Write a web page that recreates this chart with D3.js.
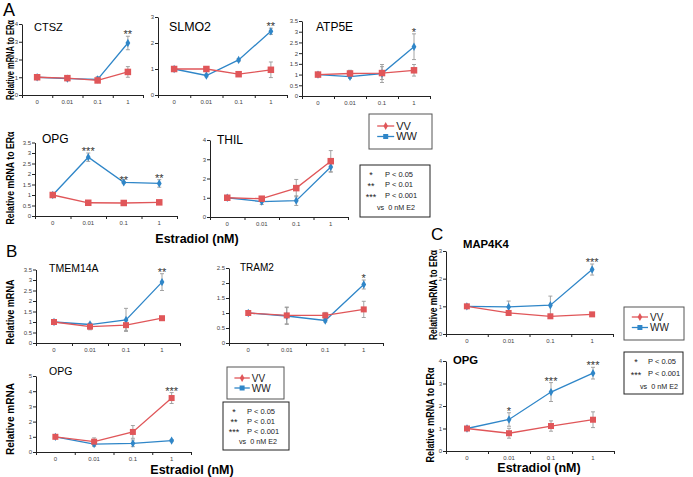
<!DOCTYPE html>
<html>
<head>
<meta charset="utf-8">
<script src="https://cdn.jsdelivr.net/npm/d3@7"></script>
<style>
  body { margin: 0; background: #fff; }
  text { font-family: "Liberation Sans", Arial, sans-serif; }
</style>
</head>
<body>
<svg id="fig" width="693" height="477"></svg>
<script>
// doses of estradiol (nM)
const doses = ["0", "0.01", "0.1", "1"];

// Panel A
const ctszVV = [1.0, 0.95, 0.82, 1.3],   ctszVVErr = [0.03, 0.06, 0.05, 0.3];
const ctszWW = [1.0, 0.92, 0.88, 2.93],  ctszWWErr = [0.03, 0.06, 0.15, 0.38];
const ctszStars = ["", "", "", "**"];

const slmo2VV = [1.0, 1.0, 0.8, 0.97],   slmo2VVErr = [0.03, 0.08, 0.05, 0.3];
const slmo2WW = [1.0, 0.75, 1.35, 2.45], slmo2WWErr = [0.03, 0.05, 0.05, 0.12];
const slmo2Stars = ["", "", "", "**"];

const atp5eVV = [1.0, 1.05, 1.07, 1.2],  atp5eVVErr = [0.03, 0.15, 0.3, 0.27];
const atp5eWW = [1.0, 0.9, 1.05, 2.3],   atp5eWWErr = [0.03, 0.08, 0.42, 0.6];
const atp5eStars = ["", "", "", "*"];

const opgAVV = [1.0, 0.63, 0.62, 0.65],  opgAVVErr = [0.03, 0.06, 0.03, 0.04];
const opgAWW = [1.0, 2.8, 1.6, 1.55],    opgAWWErr = [0.03, 0.2, 0.04, 0.18];
const opgAStars = ["", "***", "**", "**"];

const thilVV = [1.0, 0.95, 1.5, 2.9],    thilVVErr = [0.03, 0.05, 0.45, 0.55];
const thilWW = [1.0, 0.8, 0.85, 2.6],    thilWWErr = [0.03, 0.15, 0.25, 0.27];
const thilStars = ["", "", "", ""];

// Panel B
const tmemVV = [1.0, 0.78, 0.85, 1.18],  tmemVVErr = [0.03, 0.15, 0.25, 0.04];
const tmemWW = [1.0, 0.88, 1.1, 2.9],    tmemWWErr = [0.03, 0.06, 0.55, 0.4];
const tmemStars = ["", "", "", "**"];

const tram2VV = [1.0, 0.92, 0.92, 1.12], tram2VVErr = [0.03, 0.28, 0.1, 0.27];
const tram2WW = [1.0, 0.9, 0.75, 1.95],  tram2WWErr = [0.03, 0.28, 0.05, 0.15];
const tram2Stars = ["", "", "", "*"];

const opgBVV = [1.0, 0.68, 1.32, 3.55],  opgBVVErr = [0.04, 0.25, 0.42, 0.36];
const opgBWW = [1.0, 0.52, 0.57, 0.75],  opgBWWErr = [0.04, 0.15, 0.22, 0.07];
const opgBStars = ["", "", "", "***"];

// Panel C
const map4VV = [1.0, 0.76, 0.64, 0.71],  map4VVErr = [0.03, 0.08, 0.04, 0.04];
const map4WW = [1.0, 0.98, 1.04, 2.33],  map4WWErr = [0.03, 0.21, 0.33, 0.2];
const map4Stars = ["", "", "", "***"];

const opgCVV = [1.0, 0.79, 1.11, 1.39],  opgCVVErr = [0.04, 0.22, 0.23, 0.35];
const opgCWW = [1.0, 1.4, 2.62, 3.46],   opgCWWErr = [0.04, 0.3, 0.42, 0.26];
const opgCStars = ["", "*", "***", "***"];

const red = "#e05659", blue = "#2f86c8", errCol = "#9a9a9a";

const svg = d3.select("#fig");

function panel(p) {
  const x = d3.scaleBand().domain(doses).range([p.x0, p.x1]);
  const y = d3.scaleLinear().domain([0, p.yMax]).range([p.yBot, p.yTop]);
  const edge = d3.scaleLinear().domain([0, doses.length]).range([p.x0, p.x1]);
  const cx = d => x(d) + x.bandwidth() / 2;

  // y axis
  const ya = svg.append("g")
    .attr("transform", "translate(" + p.x0 + ",0)")
    .call(d3.axisLeft(y)
      .tickValues(d3.range(0, p.yMax + 1e-9, p.step))
      .tickSize(3).tickSizeOuter(0).tickPadding(1)
      .tickFormat(d3.format("")));
  // x axis: boundary ticks, then labels centred in bands
  const xe = svg.append("g")
    .attr("transform", "translate(0," + p.yBot + ")")
    .call(d3.axisBottom(edge).ticks(doses.length).tickSize(3).tickSizeOuter(0).tickFormat(""));
  const xl = svg.append("g")
    .attr("transform", "translate(0," + p.yBot + ")")
    .call(d3.axisBottom(x).tickSize(0).tickPadding(5));
  xl.select(".domain").remove();
  [ya, xe, xl].forEach(g => {
    g.selectAll("path, line").attr("stroke", "#222");
    g.selectAll("text").attr("font-size", 6).attr("fill", "#444")
      .attr("font-family", "'Liberation Sans', Arial, sans-serif");
  });

  // title
  svg.append("text").attr("x", p.tx).attr("y", p.ty)
    .attr("font-size", p.tsize).attr("font-weight", p.tbold ? "bold" : "normal")
    .text(p.title);

  const series = [
    { v: p.ww, e: p.wwErr, c: blue, m: "diamond" },
    { v: p.vv, e: p.vvErr, c: red, m: "square" }
  ];
  const line = d3.line().x((d, i) => cx(doses[i])).y(d => y(d));

  series.forEach(s => {
    const g = svg.append("g");
    s.v.forEach((v, i) => {
      const xx = cx(doses[i]);
      g.append("line").attr("x1", xx).attr("x2", xx)
        .attr("y1", y(v - s.e[i])).attr("y2", y(v + s.e[i]))
        .attr("stroke", errCol).attr("stroke-width", 0.9);
      [v - s.e[i], v + s.e[i]].forEach(t => g.append("line")
        .attr("x1", xx - 2).attr("x2", xx + 2).attr("y1", y(t)).attr("y2", y(t))
        .attr("stroke", errCol).attr("stroke-width", 0.9));
    });
  });
  series.forEach(s => {
    svg.append("path").datum(s.v).attr("d", line)
      .attr("fill", "none").attr("stroke", s.c).attr("stroke-width", 1.3);
    s.v.forEach((v, i) => {
      if (s.m === "square") {
        svg.append("rect").attr("x", cx(doses[i]) - p.sq / 2).attr("y", y(v) - p.sq / 2)
          .attr("width", p.sq).attr("height", p.sq).attr("fill", s.c);
      } else {
        svg.append("path").attr("d", d3.symbol(d3.symbolDiamond, 20)())
          .attr("transform", "translate(" + cx(doses[i]) + "," + y(v) + ")")
          .attr("fill", s.c);
      }
    });
  });

  // significance stars
  const sv = p.starsOn === "vv" ? p.vv : p.ww;
  const se = p.starsOn === "vv" ? p.vvErr : p.wwErr;
  p.stars.forEach((st, i) => {
    if (!st) return;
    svg.append("text").attr("x", cx(doses[i])).attr("y", y(sv[i] + se[i]) + 2)
      .attr("text-anchor", "middle").attr("font-size", 11).attr("fill", "#333")
      .text(st);
  });
}

const panels = [
  { title: "CTSZ", tx: 34, ty: 31, tsize: 11, x0: 22, x1: 143, yTop: 24, yBot: 95, yMax: 4, step: 1, sq: 6.5,
    vv: ctszVV, vvErr: ctszVVErr, ww: ctszWW, wwErr: ctszWWErr, stars: ctszStars },
  { title: "SLMO2", tx: 169, ty: 31, tsize: 12.4, x0: 158, x1: 287, yTop: 17, yBot: 95, yMax: 3, step: 1, sq: 6.5,
    vv: slmo2VV, vvErr: slmo2VVErr, ww: slmo2WW, wwErr: slmo2WWErr, stars: slmo2Stars },
  { title: "ATP5E", tx: 316, ty: 31, tsize: 12, x0: 302, x1: 430, yTop: 21, yBot: 96, yMax: 3.5, step: 0.5, sq: 6.5,
    vv: atp5eVV, vvErr: atp5eVVErr, ww: atp5eWW, wwErr: atp5eWWErr, stars: atp5eStars },
  { title: "OPG", tx: 42, ty: 143, tsize: 12, x0: 35, x1: 177, yTop: 142.5, yBot: 216, yMax: 3.5, step: 0.5, sq: 6.5,
    vv: opgAVV, vvErr: opgAVVErr, ww: opgAWW, wwErr: opgAWWErr, stars: opgAStars },
  { title: "THIL", tx: 217, ty: 144, tsize: 12, x0: 210, x1: 348, yTop: 140, yBot: 217, yMax: 4, step: 1, sq: 6.5,
    vv: thilVV, vvErr: thilVVErr, ww: thilWW, wwErr: thilWWErr, stars: thilStars },
  { title: "TMEM14A", tx: 49, ty: 272, tsize: 10.5, x0: 36, x1: 180, yTop: 269.5, yBot: 343, yMax: 3.5, step: 0.5, sq: 6,
    vv: tmemVV, vvErr: tmemVVErr, ww: tmemWW, wwErr: tmemWWErr, stars: tmemStars },
  { title: "TRAM2", tx: 240, ty: 271, tsize: 10, x0: 229, x1: 383, yTop: 268, yBot: 343, yMax: 2.5, step: 0.5, sq: 6,
    vv: tram2VV, vvErr: tram2VVErr, ww: tram2WW, wwErr: tram2WWErr, stars: tram2Stars },
  { title: "OPG", tx: 49, ty: 375, tsize: 10.5, x0: 36, x1: 191, yTop: 376, yBot: 452, yMax: 5, step: 1, sq: 6,
    vv: opgBVV, vvErr: opgBVVErr, ww: opgBWW, wwErr: opgBWWErr, stars: opgBStars, starsOn: "vv" },
  { title: "MAP4K4", tx: 463, ty: 248, tsize: 11.3, tbold: true, x0: 446, x1: 613, yTop: 251, yBot: 334, yMax: 3, step: 1, sq: 6,
    vv: map4VV, vvErr: map4VVErr, ww: map4WW, wwErr: map4WWErr, stars: map4Stars },
  { title: "OPG", tx: 453, ty: 364, tsize: 11.3, tbold: true, x0: 446, x1: 614, yTop: 361, yBot: 451, yMax: 4, step: 1, sq: 6,
    vv: opgCVV, vvErr: opgCVVErr, ww: opgCWW, wwErr: opgCWWErr, stars: opgCStars }
];
panels.forEach(panel);

// panel letters
[["A", 3, 16, 18], ["B", 6, 257, 17], ["C", 431, 240, 17]].forEach(l =>
  svg.append("text").attr("x", l[1]).attr("y", l[2]).attr("font-size", l[3]).text(l[0]));

// rotated y labels: [text, baseline x, centre y, length]
[["Relative mRNA to ERα", 13.5, 60, 80], ["Relative mRNA to ERα", 13.5, 178, 93],
 ["Relative mRNA", 13.5, 312, 65], ["Relative mRNA", 13.5, 419, 72],
 ["Relative mRNA to ERα", 436.5, 295, 90], ["Relative mRNA to ERα", 434, 415, 95]].forEach(l =>
  svg.append("text").attr("transform", "translate(" + l[1] + "," + l[2] + ") rotate(-90)")
    .attr("text-anchor", "middle").attr("font-size", 11).attr("font-weight", "bold")
    .attr("textLength", l[3]).attr("lengthAdjust", "spacingAndGlyphs").text(l[0]));

// x titles
[[197, 243], [192, 474], [539, 472]].forEach(l =>
  svg.append("text").attr("x", l[0]).attr("y", l[1]).attr("text-anchor", "middle")
    .attr("font-size", 12.5).attr("font-weight", "bold").text("Estradiol (nM)"));

// legends
function legend(x0, y0, w, h, rows, fs) {
  svg.append("rect").attr("x", x0).attr("y", y0).attr("width", w).attr("height", h)
    .attr("fill", "#fff").attr("stroke", "#555").attr("stroke-width", 1);
  const names = ["VV", "WW"], cols = [red, blue];
  rows.forEach((ry, i) => {
    const lx = x0 + w * 0.13, lw = w * 0.27;
    svg.append("line").attr("x1", lx).attr("x2", lx + lw).attr("y1", ry).attr("y2", ry)
      .attr("stroke", cols[i]).attr("stroke-width", 1.3);
    if (i === 0) {
      svg.append("path").attr("d", d3.symbol(d3.symbolDiamond, 18)())
        .attr("transform", "translate(" + (lx + lw / 2) + "," + ry + ")").attr("fill", cols[i]);
    } else {
      svg.append("rect").attr("x", lx + lw / 2 - 2.5).attr("y", ry - 2.5).attr("width", 5).attr("height", 5)
        .attr("fill", cols[i]);
    }
    svg.append("text").attr("x", lx + lw + 2).attr("y", ry + fs * 0.36).attr("font-size", fs)
      .attr("fill", "#222").text(names[i]);
  });
}
legend(369, 114, 63, 35, [126, 136.5], 11);
legend(227, 367, 57, 32, [378, 388], 10);
legend(624, 307, 60, 33, [317, 327.5], 10);

// significance keys
function key(x0, y0, w, h, rows, starX, pX, vsX) {
  svg.append("rect").attr("x", x0).attr("y", y0).attr("width", w).attr("height", h)
    .attr("fill", "#fff").attr("stroke", "#222").attr("stroke-width", 1);
  rows.forEach(r => {
    if (r[0] === "vs") {
      svg.append("text").attr("x", vsX).attr("y", r[2] + 2.5).attr("font-size", 7.2)
        .attr("fill", "#222").attr("xml:space", "preserve").text("vs  0 nM E2");
      return;
    }
    svg.append("text").attr("x", starX).attr("y", r[2] + 4).attr("text-anchor", "middle")
      .attr("font-size", 9).attr("fill", "#222").text(r[0]);
    svg.append("text").attr("x", pX).attr("y", r[2] + 2.5).attr("font-size", 7.5)
      .attr("fill", "#222").text(r[1]);
  });
}
key(360, 165, 70, 52, [["*", "P < 0.05", 174], ["**", "P < 0.01", 184.5], ["***", "P < 0.001", 195.5], ["vs", "", 207]], 371, 385, 377);
key(223, 402, 66, 48, [["*", "P < 0.05", 411], ["**", "P < 0.01", 421], ["***", "P < 0.001", 431], ["vs", "", 441]], 234, 247, 239);
key(624, 352, 59, 42, [["*", "P < 0.05", 361], ["***", "P < 0.001", 373.5], ["vs", "", 386]], 636, 648, 640);
</script>
</body>
</html>
